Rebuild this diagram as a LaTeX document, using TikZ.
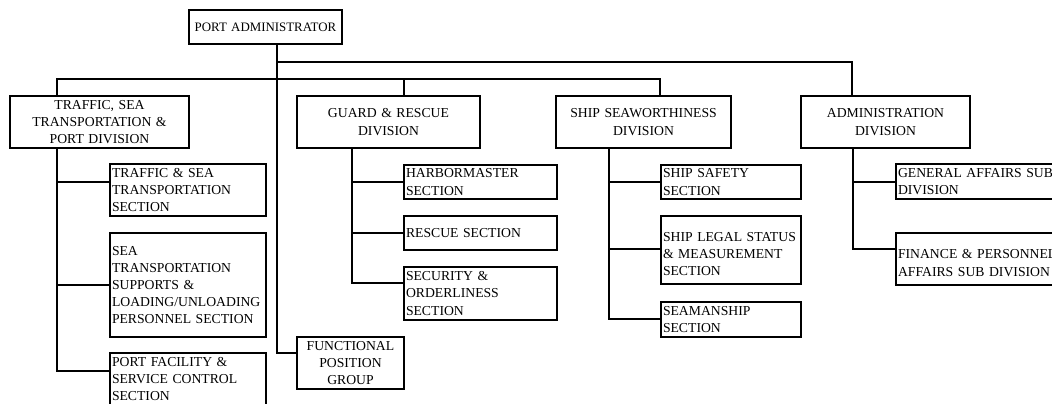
\documentclass[tikz,border=0pt]{standalone}
\usepackage{fontspec}
\setmainfont{Liberation Serif}
\usetikzlibrary{calc}
\begin{document}
\begin{tikzpicture}[x=1bp,y=-1bp,
  box/.style={draw, line width=2bp, inner sep=0pt, inner xsep=2bp, outer sep=0pt,
    anchor=north west, font=\fontsize{13.7bp}{17.2bp}\selectfont},
  divbox/.style={box, align=center},
  secbox/.style={box, align=left},
  link/.style={line width=2bp},
]
\useasboundingbox (0,0) rectangle (1052,403);

% head of the office
\node[divbox, minimum width=153bp, minimum height=34bp, text width=149bp,
  font=\fontsize{12.9bp}{15bp}\selectfont] (pa) at (189,10) {PORT ADMINISTRATOR};

% divisions
\node[divbox, minimum width=179bp, minimum height=52bp, text width=175bp] (tsp) at (10,96)
  {TRAFFIC, SEA\\TRANSPORTATION \&\\PORT DIVISION};
\node[divbox, minimum width=183bp, minimum height=52bp, text width=179bp] (grd) at (297,96)
  {GUARD \& RESCUE\\DIVISION};
\node[divbox, minimum width=175bp, minimum height=52bp, text width=171bp] (ssd) at (556,96)
  {SHIP SEAWORTHINESS\\DIVISION};
\node[divbox, minimum width=169bp, minimum height=52bp, text width=165bp] (adm) at (801,96)
  {ADMINISTRATION\\DIVISION};
\node[divbox, minimum width=107bp, minimum height=52bp, text width=103bp] (fpg) at (297,337)
  {FUNCTIONAL\\POSITION\\GROUP};

% sections of the traffic division
\node[secbox, minimum width=156bp, minimum height=52bp, text width=152bp] (ts1) at (110,164)
  {TRAFFIC \& SEA\\TRANSPORTATION\\SECTION};
\node[secbox, minimum width=156bp, minimum height=104bp, text width=152bp] (ts2) at (110,233)
  {SEA\\TRANSPORTATION\\SUPPORTS \&\\LOADING/UNLOADING\\PERSONNEL SECTION};
\node[secbox, minimum width=156bp, minimum height=52bp, text width=152bp] (ts3) at (110,353)
  {PORT FACILITY \&\\SERVICE CONTROL\\SECTION};

% sections of the guard division
\node[secbox, minimum width=153bp, minimum height=34bp, text width=149bp] (gr1) at (404,165)
  {HARBORMASTER\\SECTION};
\node[secbox, minimum width=153bp, minimum height=34bp, text width=149bp] (gr2) at (404,216)
  {RESCUE SECTION};
\node[secbox, minimum width=153bp, minimum height=53bp, text width=149bp] (gr3) at (404,267)
  {SECURITY \&\\ORDERLINESS\\SECTION};

% sections of the seaworthiness division
\node[secbox, minimum width=140bp, minimum height=34bp, text width=136bp] (ss1) at (661,165)
  {SHIP SAFETY\\SECTION};
\node[secbox, minimum width=140bp, minimum height=68bp, text width=136bp] (ss2) at (661,216)
  {\mbox{}\\SHIP LEGAL STATUS\\\& MEASUREMENT\\SECTION};
\node[secbox, minimum width=140bp, minimum height=35bp, text width=136bp] (ss3) at (661,302)
  {SEAMANSHIP\\SECTION};

% sub divisions of administration
\node[secbox, minimum width=170bp, minimum height=35bp, text width=166bp] (ad1) at (896,164)
  {GENERAL AFFAIRS SUB\\DIVISION};
\node[secbox, minimum width=170bp, minimum height=52bp, text width=166bp] (ad2) at (896,233)
  {\mbox{}\\FINANCE \& PERSONNEL\\AFFAIRS SUB DIVISION};

% connection points
\coordinate (t)  at ($(pa.south west)!0.575!(pa.south east)$);
\coordinate (b1) at ($(pa.south west)+(88,18)$);
\coordinate (b2) at ($(pa.south west)+(88,35)$);
\coordinate (tspIn) at ($(tsp.north west)+(47,0)$);
\coordinate (grdIn) at ($(grd.north west)+(107,0)$);
\coordinate (ssdIn) at ($(ssd.north west)+(104,0)$);
\coordinate (admIn) at ($(adm.north west)+(51,0)$);
\coordinate (tspOut) at ($(tsp.south west)+(47,0)$);
\coordinate (grdOut) at ($(grd.south west)+(55,0)$);
\coordinate (ssdOut) at ($(ssd.south west)+(53,0)$);
\coordinate (admOut) at ($(adm.south west)+(52,0)$);
\coordinate (fpgIn) at ($(fpg.north west)+(0,16)$);
\coordinate (ts1In) at ($(ts1.north west)+(0,18)$);
\coordinate (ts2In) at ($(ts2.north west)+(0,52)$);
\coordinate (ts3In) at ($(ts3.north west)+(0,18)$);
\coordinate (gr1In) at ($(gr1.north west)+(0,17)$);
\coordinate (gr2In) at ($(gr2.north west)+(0,17)$);
\coordinate (gr3In) at ($(gr3.north west)+(0,16)$);
\coordinate (ss1In) at ($(ss1.north west)+(0,17)$);
\coordinate (ss2In) at ($(ss2.north west)+(0,33)$);
\coordinate (ss3In) at ($(ss3.north west)+(0,17)$);
\coordinate (ad1In) at ($(ad1.north west)+(0,18)$);
\coordinate (ad2In) at ($(ad2.north west)+(0,16)$);

% main trunk and buses
\draw[link] (t) |- (fpgIn);
\draw[link] (b1) -| (admIn);
\draw[link] (tspIn) |- (ssdIn |- b2) -- (ssdIn);
\draw[link] (grdIn) -- (grdIn |- b2);

% traffic division branches
\draw[link] (tspOut) |- (ts3In);
\draw[link] (tspOut |- ts1In) -- (ts1In);
\draw[link] (tspOut |- ts2In) -- (ts2In);

% guard division branches
\draw[link] (grdOut) |- (gr3In);
\draw[link] (grdOut |- gr1In) -- (gr1In);
\draw[link] (grdOut |- gr2In) -- (gr2In);

% seaworthiness division branches
\draw[link] (ssdOut) |- (ss3In);
\draw[link] (ssdOut |- ss1In) -- (ss1In);
\draw[link] (ssdOut |- ss2In) -- (ss2In);

% administration branches
\draw[link] (admOut) |- (ad2In);
\draw[link] (admOut |- ad1In) -- (ad1In);
\end{tikzpicture}
\end{document}
